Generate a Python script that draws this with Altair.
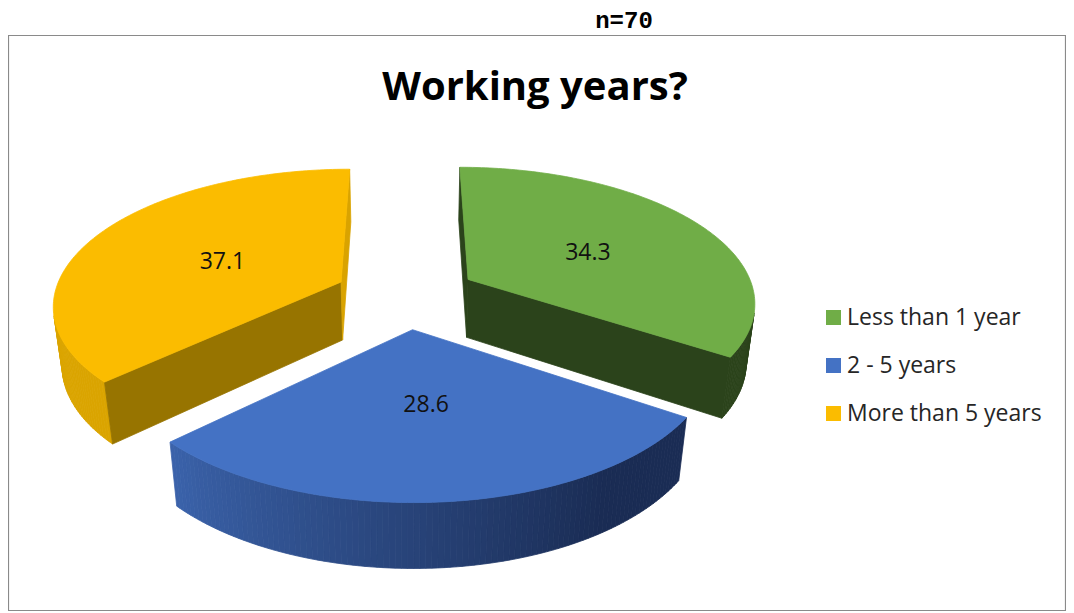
import math
import altair as alt
import pandas as pd

# Values
categories = ["Less than 1 year", "2 - 5 years", "More than 5 years"]
values = [34.3, 28.6, 37.1]
top_colors = ["#70AD47", "#4472C4", "#FBBC00"]
end_face = ["#2B431B", "#1A2C54", "#D9A300"]      # radial face at the end of a slice
start_face = ["#2B431B", "#1A2C54", "#977400"]    # radial face at the start of a slice
wall_flat = ["#2B431B", None, "#DAA400"]
blue_wall = ["#1A2C54", "#3B63AB"]
label_radius = [0.51, 0.46, 0.477]
title_text = "Working years?"
note_text = "n=70"

# Camera of the 3D pie (page pixels)
CX, CY, R, K, DEPTH, P, Q, EXPLODE = 406, 295, 287, 134, 60, 0.155, 0.025, 0.25
STEP = 1.0


def project(X, Y, Z):
    s = 1 / (1 - P * Y + Q * Z)
    return CX + R * X * s, CY + (K * Y + DEPTH * Z) * s


def mix(a, b, f):
    pa = [int(a[i:i + 2], 16) for i in (1, 3, 5)]
    pb = [int(b[i:i + 2], 16) for i in (1, 3, 5)]
    return "#%02x%02x%02x" % tuple(round(u + (v - u) * f) for u, v in zip(pa, pb))


def wall_color(i, frac):
    if i == 1:
        return mix(blue_wall[0], blue_wall[1], max(0, (frac - 0.22) / 0.78))
    return wall_flat[i]


rows = []
pid = 0


def add_poly(pts, color, layer, cull=True):
    global pid
    area = sum(pts[j][0] * pts[(j + 1) % len(pts)][1] - pts[(j + 1) % len(pts)][0] * pts[j][1]
               for j in range(len(pts)))
    if cull and area <= 0:
        return
    for n, (x, y) in enumerate(pts + pts[:1]):
        rows.append(dict(poly=f"p{pid:05d}", n=n, x=x, y=y, c=color, layer=layer))
    pid += 1


total = sum(values)
start = 0.0
label_rows = []
for i, v in enumerate(values):
    a0 = start
    a1 = start + v / total * 360
    start = a1
    mid = math.radians((a0 + a1) / 2)
    ex, ey = EXPLODE * math.sin(mid), -EXPLODE * math.cos(mid)
    count = max(2, int((a1 - a0) / STEP))
    angles = [math.radians(a0 + (a1 - a0) * j / count) for j in range(count + 1)]
    rim = [(ex + math.sin(t), ey - math.cos(t)) for t in angles]
    for j in range(count):
        (x0, y0), (x1, y1) = rim[j], rim[j + 1]
        quad = [project(x0, y0, 0), project(x0, y0, 1), project(x1, y1, 1), project(x1, y1, 0)]
        add_poly(quad, wall_color(i, j / count), 0)
    add_poly([project(ex, ey, 0), project(ex, ey, 1), project(*rim[0], 1), project(*rim[0], 0)], start_face[i], 1)
    add_poly([project(*rim[-1], 0), project(*rim[-1], 1), project(ex, ey, 1), project(ex, ey, 0)], end_face[i], 1)
    add_poly([project(ex, ey, 0)] + [project(a, b, 0) for a, b in rim], top_colors[i], 2, cull=False)
    lr = label_radius[i]
    lx, ly = project(ex + lr * math.sin(mid), ey - lr * math.cos(mid), 0)
    label_rows.append(dict(x=lx, y=ly, t=f"{v:.1f}", cat=categories[i]))

df = pd.DataFrame(rows).sort_values(["layer", "poly", "n"])
labels = pd.DataFrame(label_rows)

# Page-pixel coordinate scales: the plot area starts 8px in from the window edge
W, H = 1058, 603
xs = alt.Scale(domain=[8, 8 + W], nice=False, zero=False, padding=0)
ys = alt.Scale(domain=[8 + H, 8], nice=False, zero=False, padding=0)
X = alt.X("x:Q", scale=xs, axis=None)
Y = alt.Y("y:Q", scale=ys, axis=None)

frame = alt.Chart(pd.DataFrame(dict(x=[8.5], x2=[1065.5], y=[35.5], y2=[610.5]))).mark_rect(
    fill="white", stroke="#8A8A8A", strokeWidth=1.2
).encode(X, alt.X2("x2:Q"), Y, alt.Y2("y2:Q"))

polys = alt.Chart(df).mark_line(strokeWidth=0.8, strokeJoin="round", interpolate="linear").encode(
    X, Y,
    detail="poly:N",
    order="n:Q",
    fill=alt.Fill("c:N", scale=None),
    stroke=alt.Stroke("c:N", scale=None),
)

label_marks = alt.Chart(labels).mark_text(font="Open Sans", fontSize=23, color="#111111", dy=4).encode(
    X, Y, text="t:N"
)

legend_src = alt.Chart(labels).mark_square(size=0).encode(
    X, Y,
    color=alt.Color(
        "cat:N",
        scale=alt.Scale(domain=categories, range=top_colors),
        sort=categories,
        legend=alt.Legend(
            title=None, orient="none", legendX=814, legendY=298,
            symbolType="square", symbolSize=225, symbolStrokeWidth=0, symbolOpacity=1,
            labelFont="Open Sans", labelFontSize=23, labelColor="#262626",
            rowPadding=24, labelOffset=2, labelLimit=260,
        ),
    ),
)

texts = pd.DataFrame(dict(x=[535, 624], y=[88, 21], t=[title_text, note_text],
                          kind=["title", "note"]))
title_mark = alt.Chart(texts[texts.kind == "title"]).mark_text(
    font="Open Sans", fontSize=40, fontWeight="bold", color="#000000"
).encode(X, Y, text="t:N")
note_mark = alt.Chart(texts[texts.kind == "note"]).mark_text(
    font="Liberation Mono", fontSize=24, fontWeight="bold", color="#000000"
).encode(X, Y, text="t:N")

chart = alt.layer(frame, polys, label_marks, legend_src, title_mark, note_mark).properties(
    width=W, height=H, padding=0, autosize=alt.AutoSizeParams(type="none")
).configure_view(stroke=None)

chart.save("out.html", embed_options={"renderer": "svg", "actions": False})
